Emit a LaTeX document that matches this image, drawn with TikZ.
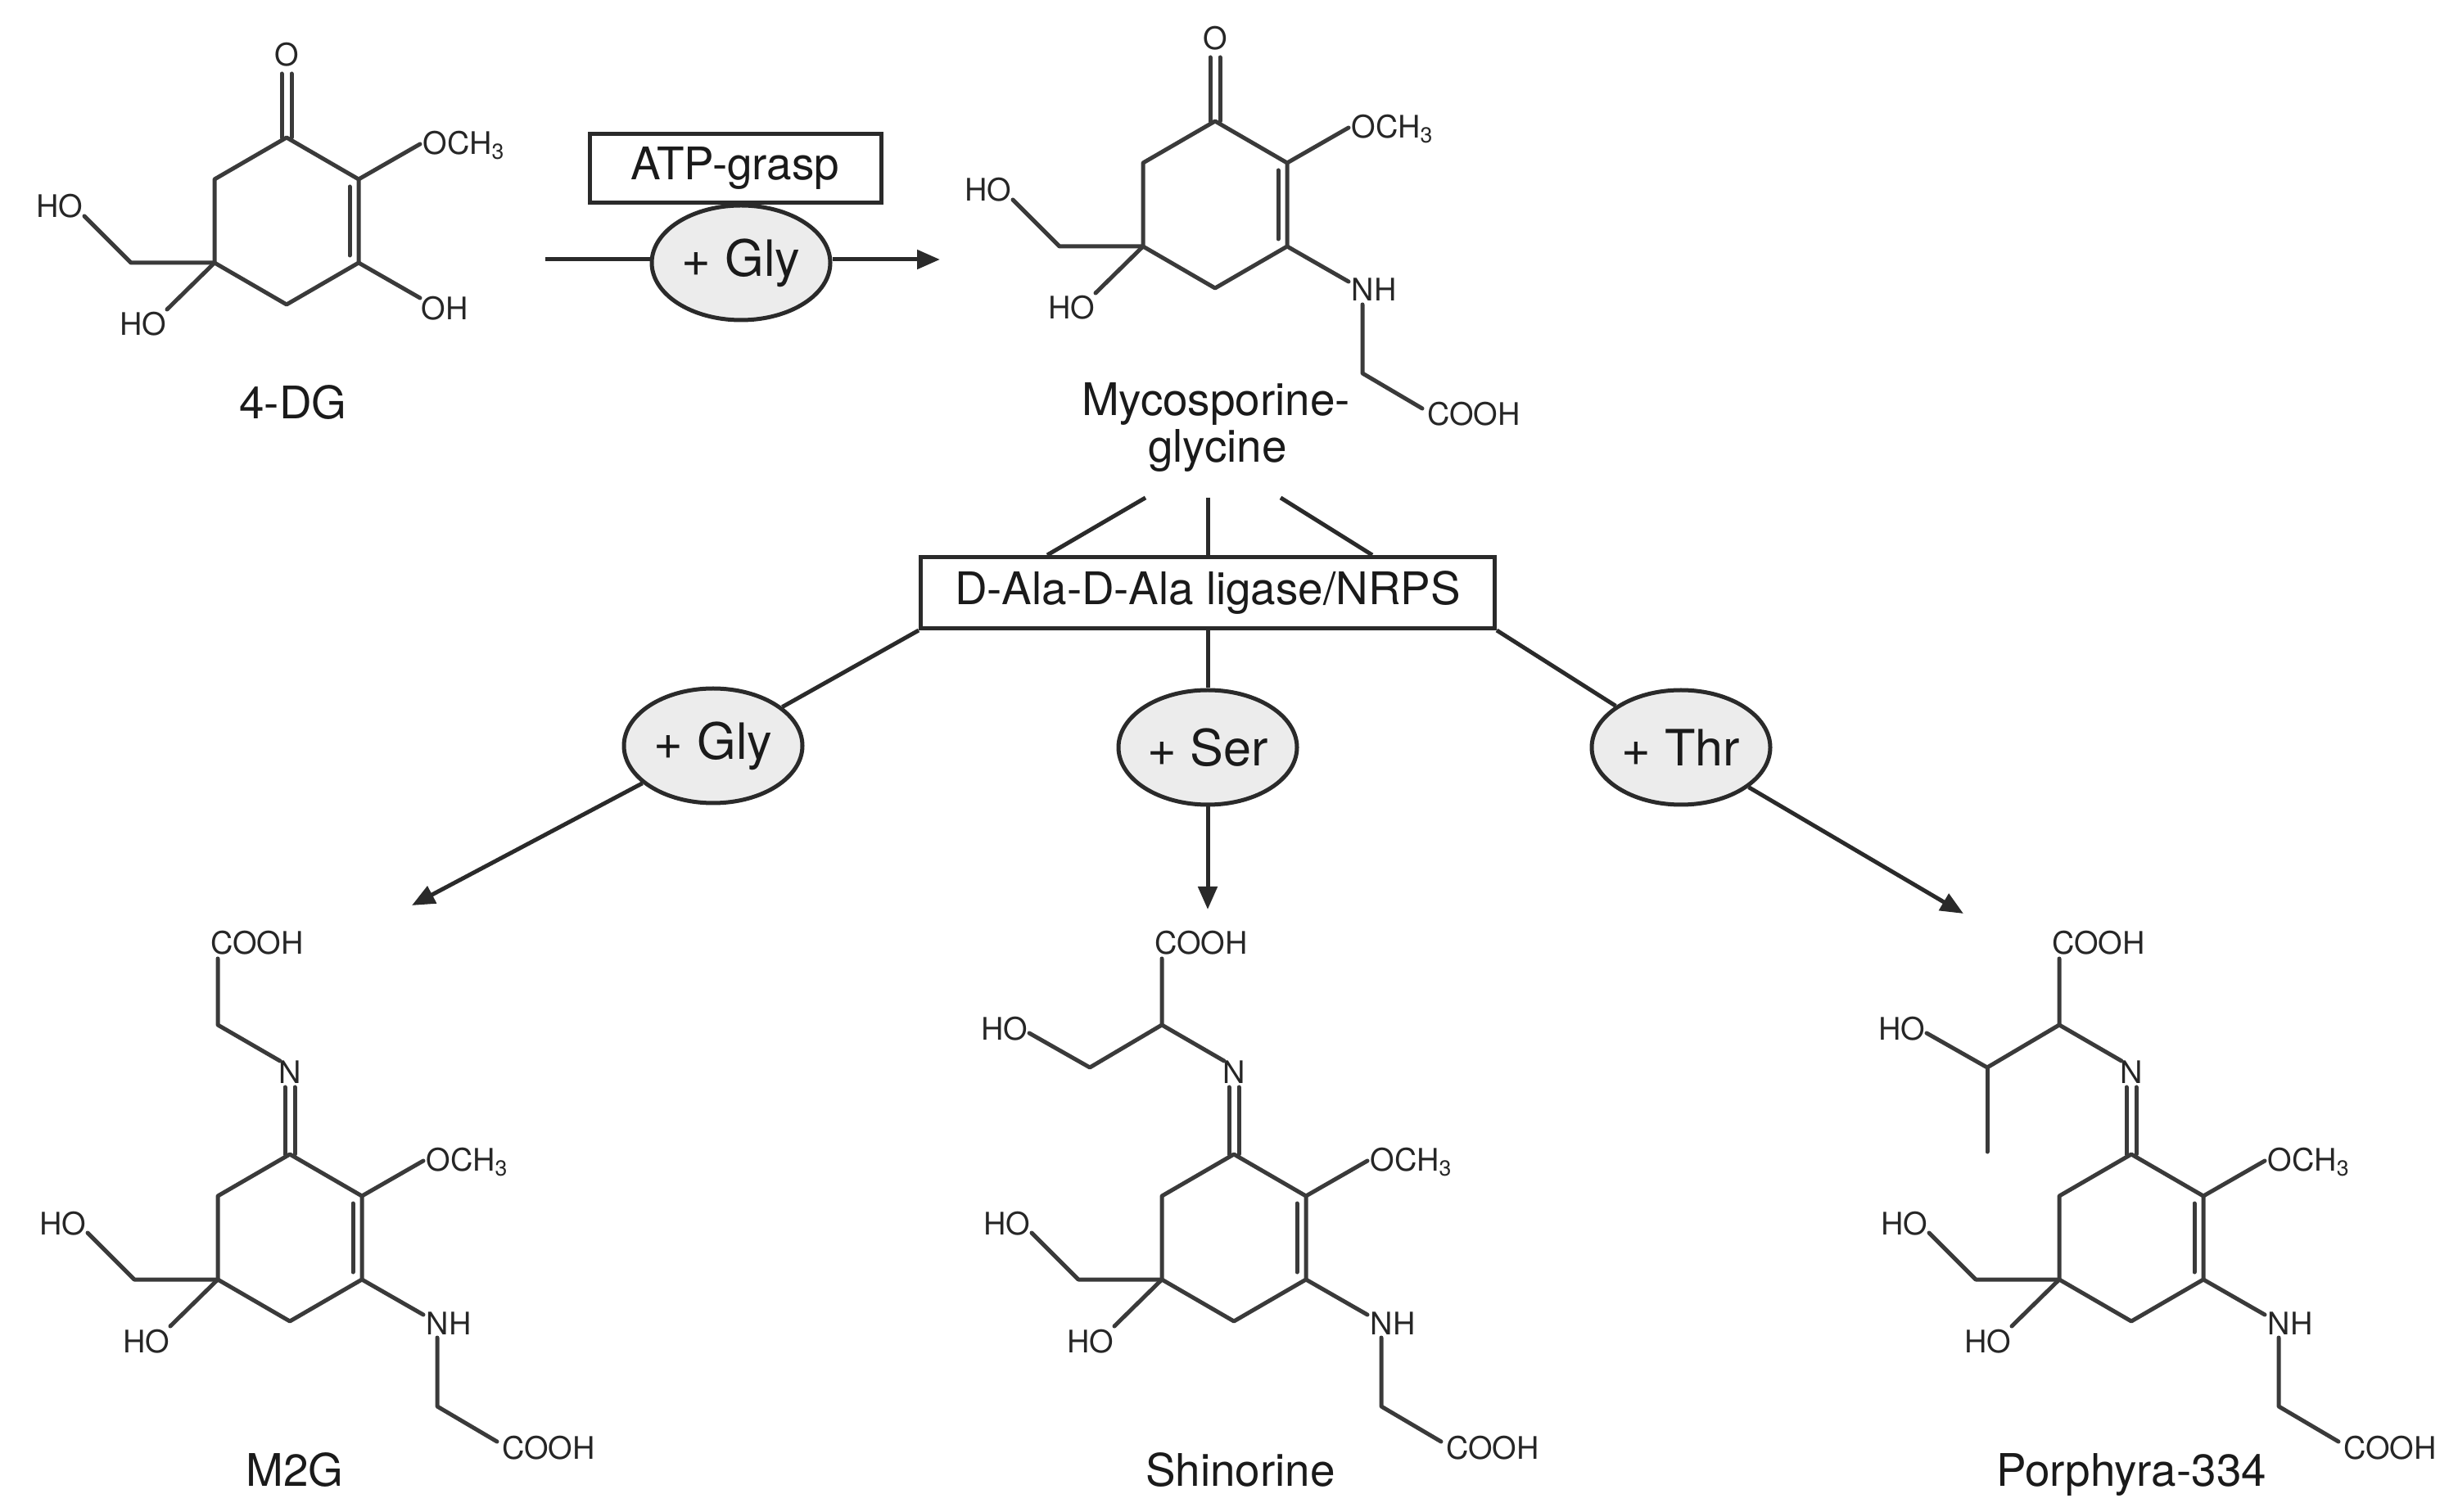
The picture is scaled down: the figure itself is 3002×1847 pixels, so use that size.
\documentclass[tikz,border=0pt]{standalone}
\usepackage{fontspec}
\setmainfont{TeX Gyre Heros}
\usetikzlibrary{arrows.meta,shapes.geometric}
\definecolor{bondgray}{HTML}{3A3A3A}
\definecolor{linegray}{HTML}{2A2A2A}
\definecolor{txtgray}{HTML}{262626}
\definecolor{txtblack}{HTML}{1A1A1A}
\definecolor{ellfill}{HTML}{ECECEC}
\newcommand{\mgring}[1]{%
  \draw[bond] (0,-102) -- (88,-51) -- (88,51) -- (0,102) -- (-88,51) -- (-88,-51) -- cycle;
  \draw[bond] (77,-42) -- (77,42);
  \draw[bond] (88,-51) -- (163,-94);
  \node[chem] (#1-och) at (217,-81) {OCH\textsubscript{3}};
  \draw[bond] (-88,51) -- (-190,51) -- (-247,-6);
  \node[chem] (#1-hoa) at (-277,-4) {HO};
  \draw[bond] (-88,51) -- (-146,108);
  \node[chem] (#1-hob) at (-175,140) {HO};
}
\newcommand{\nhgly}[1]{%
  \draw[bond] (88,51) -- (163,94);
  \node[chem] (#1-nh) at (194,118) {NH};
  \draw[bond] (180,122) -- (180,206) -- (253,249);
  \node[chem] (#1-cooh) at (316,270) {COOH};
}
\newcommand{\ketone}[1]{%
  \draw[bond] (-6,-102) -- (-6,-180) (6,-102) -- (6,-180);
  \node[chem] (#1-o) at (0,-189) {O};
}
\newcommand{\mcimine}[1]{%
  \draw[bond] (-6,-102) -- (-6,-184) (6,-102) -- (6,-184);
  \node[chem] (#1-n) at (0,-188) {N};
  \draw[bond] (-12,-216) -- (-88,-260) -- (-88,-341);
  \node[chem] (#1-coohb) at (-40,-346) {COOH};
}
\begin{document}
\begin{tikzpicture}[x=0.1mm,y=-0.1mm,
  bond/.style={draw=bondgray, line width=0.5mm, line cap=round, line join=round},
  conn/.style={draw=linegray, line width=0.5mm},
  arr/.style={conn, -{Triangle[length=2.8mm,width=2.3mm]}},
  chem/.style={inner sep=0pt, anchor=base, text=txtgray, font=\fontsize{10.8}{12}\selectfont},
  lbl/.style={inner sep=0pt, anchor=base, text=txtblack, font=\fontsize{15.6}{16.2}\selectfont},
  enzbox/.style={draw=linegray, line width=0.5mm, fill=white, inner sep=0pt, text=txtblack, font=\fontsize{15.6}{16.2}\selectfont},
  aaell/.style={ellipse, draw=linegray, line width=0.5mm, fill=ellfill, minimum width=21.8mm, minimum height=14mm, inner sep=0pt, text=txtblack, font=\fontsize{17.4}{18}\selectfont}
]
\useasboundingbox (0,0) rectangle (3002,1847);

% ---- 4-DG ----
\begin{scope}[shift={(350,270)}]
  \mgring{dg}
  \ketone{dg}
  \draw[bond] (88,51) -- (163,94);
  \node[chem] (dg-oh) at (193,121) {OH};
\end{scope}
\node[lbl] (dglabel) at (358,512) {4-DG};

% ---- Mycosporine-glycine ----
\begin{scope}[shift={(1484,250)}]
  \mgring{mg}
  \ketone{mg}
  \nhgly{mg}
\end{scope}
\node[lbl] (mglabela) at (1485,508) {Mycosporine-};
\node[lbl] (mglabelb) at (1487,565) {glycine};

% ---- ATP-grasp step ----
\node[enzbox, minimum width=35.6mm, minimum height=8.4mm] (atp) at (898,206) {ATP-grasp};
\coordinate (a0) at (666,317);
\coordinate (a1) at (1148,317);
\node[aaell] (gly0) at (905,321) {+ Gly};
\draw[conn] (a0) -- (a0 -| gly0.west);
\draw[arr] (a1 -| gly0.east) -- (a1);

% ---- D-Ala-D-Ala ligase/NRPS ----
\node[enzbox, minimum width=70.1mm, minimum height=8.7mm] (dala) at (1475,724) {D-Ala-D-Ala ligase/NRPS};
\coordinate (m1) at (1399,608);
\coordinate (m2) at (1475,608);
\coordinate (m3) at (1564,608);
\draw[conn] (m1) -- ([xshift=15.7mm]dala.north west);
\draw[conn] (m2) -- (dala.north);
\draw[conn] (m3) -- ([xshift=-15.2mm]dala.north east);

\coordinate (tL) at (503,1106);
\coordinate (tS) at (1475,1111);
\coordinate (tR) at (2398,1116);
\node[aaell] (gly) at (871,911) {+ Gly};
\node[aaell] (ser) at (1475,913) {+ Ser};
\node[aaell] (thr) at (2053,913) {+ Thr};
\draw[conn] (dala.south west) -- (gly);
\draw[arr] (gly) -- (tL);
\draw[conn] (dala.south) -- (ser);
\draw[arr] (ser) -- (tS);
\draw[conn] (dala.south east) -- (thr);
\draw[arr] (thr) -- (tR);

% ---- M2G ----
\begin{scope}[shift={(354,1512)}]
  \mgring{m2g}
  \nhgly{m2g}
  \mcimine{m2g}
\end{scope}
\node[lbl] (m2glabel) at (360,1815) {M2G};

% ---- Shinorine ----
\begin{scope}[shift={(1507,1512)}]
  \mgring{sh}
  \nhgly{sh}
  \mcimine{sh}
  \draw[bond] (-88,-260) -- (-176,-208) -- (-250,-250);
  \node[chem] (sh-hoc) at (-280,-241) {HO};
\end{scope}
\node[lbl] (shlabel) at (1515,1815) {Shinorine};

% ---- Porphyra-334 ----
\begin{scope}[shift={(2603,1512)}]
  \mgring{po}
  \nhgly{po}
  \mcimine{po}
  \draw[bond] (-88,-260) -- (-176,-208) -- (-250,-250);
  \draw[bond] (-176,-208) -- (-176,-105);
  \node[chem] (po-hoc) at (-280,-241) {HO};
\end{scope}
\node[lbl] (polabel) at (2603,1815) {Porphyra-334};
\end{tikzpicture}
\end{document}
